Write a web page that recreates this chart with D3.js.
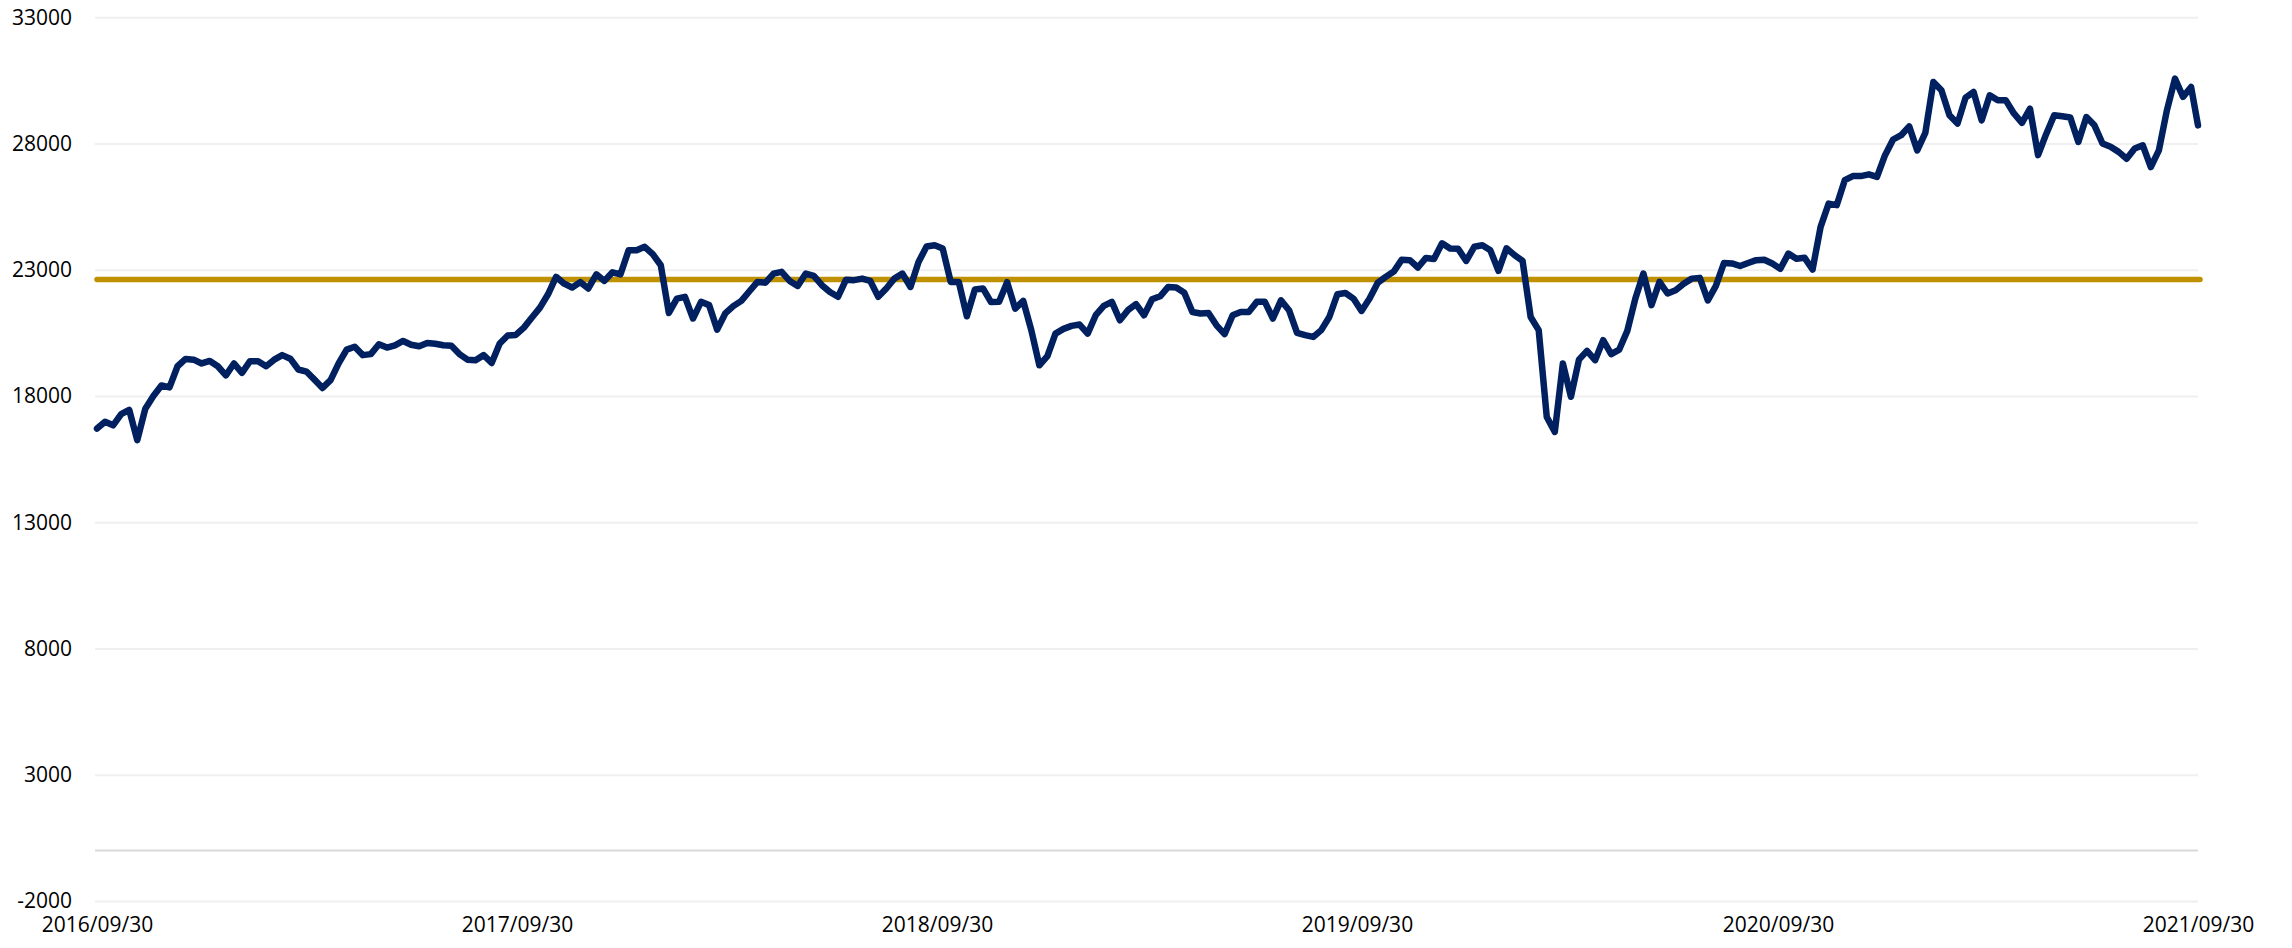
<!DOCTYPE html>
<html>
<head>
<meta charset="utf-8">
<script src="https://cdn.jsdelivr.net/npm/d3@7"></script>
<style>
  html, body { margin: 0; padding: 0; background: #fff; }
  svg text { font-family: "Open Sans", "Liberation Sans", sans-serif; font-size: 21px; fill: #000; }
</style>
</head>
<body>
<div id="chart"></div>
<script>
// weekly closes, starting 2016/09/30
const startDate = '2016-09-30';
const endDate = '2021-09-30';
const weeklyValues = [
  16710, 16980, 16840, 17280, 17450, 16250, 17500, 18000, 18420, 18340, 19180, 19470, 19440,
  19290, 19390, 19180, 18820, 19290, 18920, 19380, 19380, 19180, 19440, 19620, 19480, 19050,
  18970, 18650, 18320, 18630, 19290, 19840, 19950, 19620, 19660, 20050, 19920, 20010, 20180,
  20030, 19970, 20100, 20070, 20010, 19990, 19660, 19440, 19420, 19620, 19310, 20080, 20400,
  20420, 20710, 21110, 21500, 22030, 22720, 22450, 22300, 22510, 22260, 22820, 22560, 22900,
  22820, 23770, 23770, 23910, 23620, 23180, 21290, 21860, 21930, 21070, 21730, 21600, 20630,
  21270, 21560, 21770, 22150, 22520, 22490, 22850, 22920, 22560, 22360, 22850, 22760, 22390,
  22120, 21930, 22610, 22590, 22650, 22560, 21930, 22260, 22650, 22850, 22320, 23310, 23920,
  23970, 23840, 22520, 22520, 21160, 22220, 22260, 21720, 21730, 22510, 21460, 21770, 20610,
  19220, 19580, 20470, 20660, 20780, 20830, 20470, 21200, 21570, 21730, 21000, 21400, 21640,
  21200, 21830, 21950, 22320, 22300, 22090, 21330, 21270, 21290, 20800, 20450, 21200, 21330,
  21330, 21730, 21730, 21070, 21790, 21400, 20500, 20410, 20340, 20610, 21130, 22030, 22080,
  21860, 21370, 21860, 22480, 22720, 22930, 23400, 23380, 23090, 23470, 23430, 24050, 23840,
  23830, 23350, 23910, 23970, 23770, 22960, 23850, 23580, 23350, 21130, 20610, 17170, 16580,
  19290, 17970, 19440, 19790, 19420, 20210, 19660, 19840, 20580, 21860, 22850, 21600, 22520,
  22060, 22190, 22450, 22650, 22680, 21790, 22360, 23270, 23250, 23150, 23270, 23380, 23400,
  23250, 23040, 23640, 23440, 23480, 23010, 24700, 25620, 25560, 26550, 26710, 26710, 26780,
  26680, 27540, 28160, 28330, 28680, 27730, 28420, 30440, 30110, 29120, 28790, 29820, 30040,
  28920, 29910, 29710, 29710, 29190, 28820, 29380, 27540, 28370, 29120, 29080, 29030, 28060,
  29050, 28720, 28000, 27870, 27670, 27400, 27800, 27930, 27070, 27730, 29320, 30570, 29850,
  30240
];
const lastValue = 28720;
const referenceLevel = 22620;
const yTicks = [-2000, 3000, 8000, 13000, 18000, 23000, 28000, 33000];
const xTickLabels = ['2016/09/30', '2017/09/30', '2018/09/30', '2019/09/30', '2020/09/30', '2021/09/30'];

const parse = d3.timeParse('%Y-%m-%d');
const t0 = parse(startDate);
const series = weeklyValues.map((v, i) => ({ date: d3.timeDay.offset(t0, 7 * i), value: v }));
series.push({ date: parse(endDate), value: lastValue });

const width = 2292, height = 948;
const plot = { left: 97, right: 2198, top: 17.3, bottom: 901 };

const svg = d3.select('#chart').append('svg')
  .attr('width', width)
  .attr('height', height);

const x = d3.scaleTime()
  .domain([t0, parse(endDate)])
  .range([plot.left, plot.right]);

const y = d3.scaleLinear()
  .domain([-2000, 33000])
  .range([plot.bottom, plot.top]);

// y axis with gridlines
const yAxis = svg.append('g')
  .attr('transform', `translate(${plot.left - 2},0)`)
  .call(d3.axisLeft(y)
    .tickValues(yTicks)
    .tickSize(-(plot.right - plot.left + 2))
    .tickPadding(23)
    .tickFormat(d => String(d)));
yAxis.select('.domain').remove();
yAxis.selectAll('.tick line').attr('stroke', '#efefef').attr('stroke-width', 2);

// zero line
svg.append('line')
  .attr('x1', plot.left - 2).attr('x2', plot.right)
  .attr('y1', y(0)).attr('y2', y(0))
  .attr('stroke', '#d9d9d9').attr('stroke-width', 2);

// x axis labels
const xTicks = xTickLabels.map(s => d3.timeParse('%Y/%m/%d')(s));
const xAxis = svg.append('g')
  .attr('transform', `translate(0,${plot.bottom})`)
  .call(d3.axisBottom(x)
    .tickValues(xTicks)
    .tickSize(0)
    .tickPadding(16)
    .tickFormat(d3.timeFormat('%Y/%m/%d')));
xAxis.select('.domain').remove();

// reference level
svg.append('line')
  .attr('x1', x(t0)).attr('x2', x(parse(endDate)) + 2)
  .attr('y1', y(referenceLevel)).attr('y2', y(referenceLevel))
  .attr('stroke', '#bf9000')
  .attr('stroke-width', 5.5)
  .attr('stroke-linecap', 'round');

// index line
const line = d3.line()
  .x(d => x(d.date))
  .y(d => y(d.value));

svg.append('path')
  .datum(series)
  .attr('d', line)
  .attr('fill', 'none')
  .attr('stroke', '#002060')
  .attr('stroke-width', 6.5)
  .attr('stroke-linejoin', 'round')
  .attr('stroke-linecap', 'round');
</script>
</body>
</html>
